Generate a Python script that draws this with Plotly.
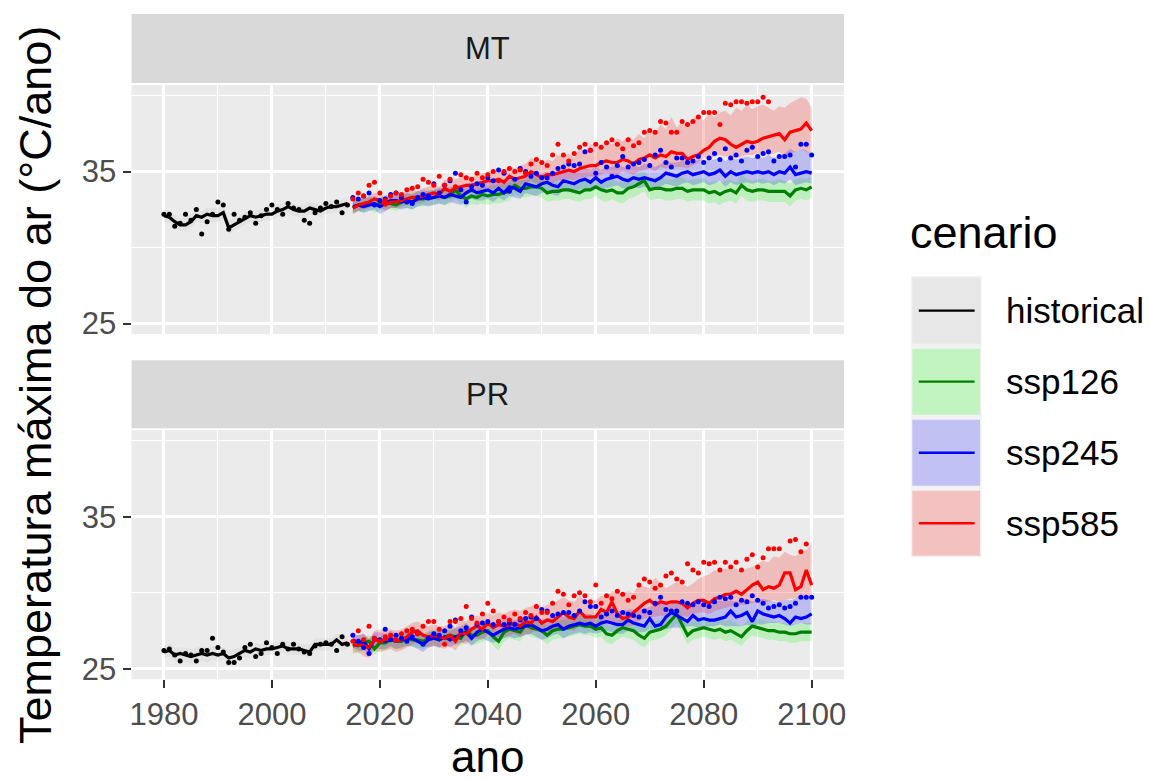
import plotly.graph_objects as go

# ---------------- data ----------------
hist_years = list(range(1980, 2015))
scen_years = list(range(2015, 2101))

# MT historical
mt_hist_mean = [32.1, 32.0, 31.7, 31.5, 31.5, 31.7, 32.1, 32.0, 32.2, 32.1,
                32.1, 32.3, 31.3, 31.5, 31.7, 31.9, 32.1, 32.0, 32.1, 32.2,
                32.2, 32.4, 32.5, 32.7, 32.5, 32.4, 32.4, 32.6, 32.5, 32.4,
                32.6, 32.7, 32.7, 32.8, 32.9]
mt_hist_hi = [32.5, 32.4, 32.2, 31.9, 32.0, 32.2, 32.5, 32.4, 32.6, 32.6,
              32.6, 32.7, 31.8, 32.0, 32.1, 32.3, 32.5, 32.4, 32.5, 32.7,
              32.6, 32.8, 32.9, 33.1, 32.9, 32.8, 32.8, 33.0, 32.9, 32.8,
              33.0, 33.1, 33.1, 33.2, 33.3]
mt_hist_lo = [31.7, 31.6, 31.3, 31.1, 31.1, 31.3, 31.7, 31.6, 31.8, 31.7,
              31.7, 31.9, 30.9, 31.1, 31.3, 31.5, 31.7, 31.6, 31.7, 31.8,
              31.8, 32.0, 32.1, 32.3, 32.1, 32.0, 32.0, 32.2, 32.1, 32.0,
              32.2, 32.3, 32.3, 32.4, 32.5]
mt_hist_pts = [32.2, 32.2, 31.4, 31.6, 32.2, 31.8, 32.5, 30.9, 31.7, 32.2,
               33.0, 32.8, 31.2, 32.2, 31.8, 32.0, 32.3, 31.6, 32.1, 32.5,
               32.8, 32.5, 32.2, 32.9, 32.6, 32.5, 31.8, 31.6, 32.3, 32.6,
               32.9, 32.7, 33.0, 32.3, 32.8]

# MT ssp126
mt_126_mean = [32.6, 32.8, 32.7, 32.9, 32.8, 32.9, 33.0, 32.9, 32.8, 33.0,
               33.1, 33.0, 33.2, 33.2, 33.3, 33.3, 33.4, 33.3, 33.4, 33.8,
               33.4, 33.2, 33.4, 33.3, 33.5, 33.4, 33.5, 33.5, 33.6, 33.7,
               34.1, 33.9, 33.9, 34.0, 34.0, 33.9, 33.6, 33.7, 33.7, 33.8,
               33.8, 33.7, 33.6, 33.8, 33.8, 34.0, 33.8, 33.7, 33.8, 33.6,
               33.6, 33.9, 34.0, 34.2, 34.4, 33.8, 33.9, 33.9, 33.8, 33.8,
               33.9, 33.9, 33.7, 33.8, 33.8, 33.8, 33.6, 33.7, 33.5, 33.7,
               33.8, 33.6, 34.1, 33.8, 33.7, 33.8, 33.8, 33.7, 33.7, 33.7,
               33.7, 33.4, 33.8, 33.9, 33.8, 34.0]
mt_126_hi = [33.0, 33.2, 33.2, 33.4, 33.2, 33.3, 33.5, 33.3, 33.3, 33.5,
             33.5, 33.6, 33.7, 33.6, 33.8, 33.8, 33.9, 33.8, 33.9, 34.2,
             33.9, 33.8, 33.9, 33.9, 34.0, 34.0, 34.1, 34.1, 34.2, 34.3,
             34.6, 34.5, 34.4, 34.6, 34.6, 34.5, 34.2, 34.3, 34.3, 34.4,
             34.4, 34.3, 34.3, 34.5, 34.4, 34.6, 34.5, 34.4, 34.5, 34.3,
             34.3, 34.6, 34.7, 34.9, 35.0, 34.5, 34.6, 34.6, 34.5, 34.5,
             34.6, 34.6, 34.4, 34.5, 34.5, 34.6, 34.3, 34.4, 34.3, 34.4,
             34.5, 34.3, 34.8, 34.5, 34.4, 34.5, 34.5, 34.4, 34.4, 34.5,
             34.4, 34.2, 34.5, 34.6, 34.5, 34.7]
mt_126_lo = [32.2, 32.4, 32.3, 32.5, 32.3, 32.4, 32.6, 32.5, 32.4, 32.6,
             32.6, 32.5, 32.7, 32.7, 32.8, 32.8, 32.9, 32.8, 32.9, 33.2,
             32.9, 32.6, 32.9, 32.8, 32.9, 32.8, 32.9, 32.9, 33.0, 33.1,
             33.5, 33.3, 33.3, 33.4, 33.4, 33.3, 33.0, 33.1, 33.1, 33.2,
             33.2, 33.1, 33.0, 33.2, 33.2, 33.4, 33.1, 33.0, 33.2, 33.0,
             32.9, 33.2, 33.3, 33.5, 33.7, 33.1, 33.2, 33.2, 33.1, 33.1,
             33.2, 33.2, 33.0, 33.1, 33.1, 33.1, 32.9, 33.0, 32.8, 33.0,
             33.1, 32.9, 33.4, 33.1, 33.0, 33.1, 33.1, 33.0, 33.0, 33.0,
             33.0, 32.7, 33.1, 33.2, 33.1, 33.3]

# MT ssp245
mt_245_mean = [32.7, 32.8, 32.7, 32.8, 32.9, 32.7, 32.9, 33.1, 33.1, 33.0,
               33.1, 33.0, 33.2, 33.3, 33.2, 33.3, 33.4, 33.3, 33.5, 33.4,
               33.3, 33.6, 33.8, 33.6, 33.7, 33.8, 33.6, 33.9, 33.6, 34.0,
               33.9, 33.7, 34.2, 34.1, 34.0, 34.2, 34.3, 34.1, 34.0, 34.4,
               34.3, 34.2, 34.4, 34.5, 34.3, 34.6, 34.3, 34.5, 34.6, 34.7,
               34.5, 34.4, 34.6, 34.5, 34.6, 34.5, 34.4, 34.6, 34.9, 34.8,
               34.7, 34.9, 35.0, 34.8, 34.9, 35.0, 34.8, 34.9, 35.1, 34.7,
               35.0, 34.8, 34.9, 35.0, 34.9, 35.0, 34.9, 35.0, 34.8, 35.0,
               34.9, 35.3, 34.8, 34.9, 35.0, 34.9]
mt_245_hi = [33.1, 33.2, 33.2, 33.3, 33.4, 33.2, 33.4, 33.6, 33.5, 33.5,
             33.6, 33.5, 33.7, 33.8, 33.7, 33.8, 33.9, 33.9, 34.0, 34.0,
             33.9, 34.2, 34.3, 34.2, 34.3, 34.4, 34.2, 34.5, 34.3, 34.6,
             34.6, 34.4, 34.8, 34.8, 34.7, 34.9, 35.0, 34.8, 34.8, 35.1,
             35.0, 35.0, 35.2, 35.2, 35.1, 35.3, 35.1, 35.3, 35.3, 35.5,
             35.3, 35.2, 35.4, 35.3, 35.5, 35.4, 35.3, 35.5, 35.7, 35.6,
             35.6, 35.7, 35.8, 35.6, 35.8, 35.8, 35.7, 35.8, 35.9, 35.7,
             35.9, 35.8, 35.9, 36.0, 35.9, 36.0, 35.9, 36.1, 35.9, 36.1,
             36.2, 36.5, 36.3, 36.5, 36.4, 36.1]
mt_245_lo = [32.3, 32.4, 32.3, 32.4, 32.5, 32.2, 32.4, 32.6, 32.6, 32.5,
             32.6, 32.5, 32.7, 32.8, 32.7, 32.8, 32.9, 32.8, 33.0, 32.9,
             32.8, 33.1, 33.2, 33.1, 33.1, 33.2, 33.0, 33.3, 33.1, 33.4,
             33.3, 33.2, 33.6, 33.5, 33.4, 33.6, 33.7, 33.5, 33.4, 33.8,
             33.7, 33.6, 33.8, 33.9, 33.7, 34.0, 33.8, 33.9, 34.0, 34.1,
             33.9, 33.8, 34.0, 33.9, 34.0, 33.9, 33.8, 34.0, 34.2, 34.1,
             34.0, 34.2, 34.3, 34.1, 34.2, 34.3, 34.1, 34.2, 34.4, 34.0,
             34.3, 34.1, 34.2, 34.3, 34.2, 34.3, 34.2, 34.3, 34.1, 34.3,
             34.2, 34.5, 34.1, 34.2, 34.3, 34.2]
mt_245_pts = [33.3, 33.2, 33.4, 33.6, 32.8, 33.1, 33.2, 33.5, 33.6, 33.3,
              33.0, 32.9, 33.3, 33.5, 33.4, 34.2, 33.6, 34.1, 34.4, 34.9,
              33.8, 33.0, 34.0, 34.2, 34.1, 34.6, 34.4, 35.1, 34.9, 33.7,
              34.5, 35.2, 35.0, 34.7, 34.9, 34.6, 34.6, 34.9, 35.2, 35.3,
              35.5, 35.4, 35.5, 36.3, 36.4, 34.9, 35.6, 35.3, 34.7, 35.4,
              36.0, 35.3, 35.5, 35.6, 35.8, 35.4, 36.1, 36.4, 35.6, 35.3,
              35.9, 35.9, 35.6, 35.7, 36.0, 35.6, 35.9, 36.2, 35.8, 36.5,
              35.9, 36.1, 35.7, 36.4, 36.6, 36.0, 36.2, 36.3, 35.7, 36.0,
              36.0, 36.1, 35.3, 36.8, 36.8, 36.1]

# MT ssp585
mt_585_mean = [32.6, 32.8, 32.9, 33.0, 33.2, 33.1, 32.8, 33.0, 33.0, 33.1,
               33.2, 33.3, 33.3, 33.4, 33.5, 33.6, 33.5, 33.9, 33.7, 33.9,
               34.0, 34.1, 34.1, 34.2, 34.3, 34.4, 34.4, 34.5, 34.3, 34.7,
               34.5, 34.6, 34.7, 35.0, 34.8, 34.6, 34.8, 34.8, 34.9, 35.0,
               35.1, 35.0, 35.2, 35.3, 35.4, 35.4, 35.6, 35.7, 35.6, 35.6,
               35.8, 35.7, 35.5, 35.8, 35.9, 36.1, 35.9, 36.1, 36.0, 36.3,
               36.2, 36.2, 35.8, 36.0, 36.1, 36.4, 36.6, 37.0, 37.2, 37.1,
               36.8, 36.6, 36.8, 37.0, 36.9, 37.0, 37.2, 37.3, 37.4, 37.5,
               37.1, 37.6, 37.7, 37.8, 38.2, 37.7]
mt_585_hi = [33.0, 33.3, 33.3, 33.4, 33.6, 33.6, 33.3, 33.4, 33.5, 33.6,
             33.7, 33.8, 33.7, 33.9, 34.0, 34.1, 34.0, 34.5, 34.3, 34.5,
             34.6, 34.8, 34.6, 34.8, 34.9, 35.0, 35.1, 35.2, 35.0, 35.4,
             35.2, 35.4, 35.5, 35.9, 35.7, 35.5, 35.8, 35.7, 36.1, 36.0,
             36.2, 35.9, 36.5, 36.3, 36.8, 36.7, 36.5, 37.0, 36.8, 37.2,
             37.0, 37.3, 37.1, 37.5, 37.2, 37.8, 37.5, 38.1, 37.8, 38.6,
             37.9, 38.3, 38.0, 38.5, 38.7, 38.4, 38.8, 38.6, 38.9, 39.0,
             38.7, 39.2, 39.0, 39.4, 39.1, 39.3, 39.4, 39.2, 39.0, 39.3,
             39.2, 39.5, 39.7, 39.9, 39.8, 39.2]
mt_585_lo = [32.2, 32.4, 32.5, 32.6, 32.8, 32.7, 32.4, 32.6, 32.6, 32.7,
             32.8, 32.9, 32.9, 33.0, 33.1, 33.2, 33.1, 33.4, 33.2, 33.4,
             33.5, 33.6, 33.6, 33.7, 33.8, 33.9, 33.8, 34.0, 33.8, 34.1,
             34.0, 34.1, 34.2, 34.4, 34.2, 34.1, 34.3, 34.2, 34.4, 34.4,
             34.5, 34.4, 34.6, 34.6, 34.7, 34.6, 34.8, 34.9, 34.8, 34.8,
             35.0, 34.9, 34.8, 35.0, 35.1, 35.2, 35.0, 35.3, 35.2, 35.3,
             35.3, 35.3, 35.2, 35.4, 35.6, 35.9, 35.8, 36.0, 36.1, 36.0,
             36.0, 35.9, 36.0, 36.1, 36.1, 36.2, 36.1, 36.1, 36.2, 36.3,
             36.0, 36.2, 36.3, 36.5, 36.3, 36.1]
mt_585_pts = [33.2, 33.6, 33.4, 34.1, 34.3, 33.6, 33.1, 33.4, 33.6, 33.5,
              33.8, 33.9, 34.0, 34.5, 34.3, 34.1, 34.7, 34.1, 34.5, 34.0,
              34.8, 34.6, 34.5, 34.9, 34.6, 34.8, 35.0, 34.4, 35.0, 35.2,
              35.0, 35.1, 34.9, 35.5, 35.8, 35.6, 35.4, 36.1, 36.8, 36.1,
              35.7, 36.2, 36.6, 36.8, 36.4, 36.8, 36.6, 36.9, 37.1, 36.8,
              36.5, 37.1, 36.7, 36.9, 37.6, 37.7, 37.6, 38.3, 38.2, 37.6,
              37.6, 38.3, 38.1, 38.3, 38.6, 38.9, 38.9, 38.9, 38.1, 39.5,
              39.4, 39.6, 39.6, 39.5, 39.6, 39.6, 39.9, 39.6, None, None,
              None, None, None, None, None, None]

# PR historical
pr_hist_mean = [26.1, 26.2, 25.9, 26.0, 25.9, 25.8, 25.9, 26.0, 25.9, 26.0,
                25.9, 26.0, 25.7, 25.8, 26.0, 26.2, 26.1, 26.3, 26.2, 26.3,
                26.3, 26.4, 26.5, 26.3, 26.3, 26.3, 26.2, 26.1, 26.6, 26.6,
                26.6, 26.6, 26.9, 26.6, 26.7]
pr_hist_hi = [26.5, 26.6, 26.4, 26.4, 26.4, 26.3, 26.4, 26.5, 26.4, 26.5,
              26.4, 26.4, 26.2, 26.3, 26.4, 26.6, 26.5, 26.7, 26.6, 26.7,
              26.7, 26.8, 26.9, 26.8, 26.7, 26.7, 26.6, 26.6, 27.0, 27.0,
              27.0, 27.0, 27.3, 27.1, 27.1]
pr_hist_lo = [25.7, 25.8, 25.5, 25.6, 25.4, 25.3, 25.4, 25.5, 25.4, 25.6,
              25.5, 25.6, 25.2, 25.3, 25.6, 25.8, 25.7, 25.9, 25.8, 25.9,
              25.9, 26.0, 26.1, 25.9, 25.9, 25.9, 25.8, 25.7, 26.2, 26.2,
              26.2, 26.2, 26.5, 26.2, 26.3]
pr_hist_pts = [26.2, 26.3, 25.9, 25.5, 26.0, 25.9, 25.5, 26.2, 26.2, 27.0,
               26.4, 26.1, 25.4, 25.4, 25.7, 26.4, 26.6, 25.8, 26.0, 26.7,
               26.4, 26.0, 26.6, 26.3, 26.6, 26.3, 26.1, 26.0, 26.5, 26.6,
               26.7, 26.6, 26.2, 27.1, 26.6]

# PR ssp126
pr_126_mean = [26.6, 26.5, 26.7, 26.8, 26.3, 26.7, 26.7, 26.9, 26.8, 26.8,
               27.0, 26.9, 26.9, 26.8, 27.0, 27.1, 26.9, 27.1, 27.2, 27.1,
               27.0, 27.5, 27.2, 27.2, 27.4, 27.5, 27.1, 26.8, 27.4, 27.6,
               27.5, 27.4, 27.9, 27.7, 27.6, 27.5, 27.2, 27.5, 27.6, 27.6,
               27.7, 27.8, 27.9, 27.8, 27.8, 27.6, 27.7, 27.3, 27.2, 27.5,
               27.7, 27.6, 27.5, 27.2, 27.0, 27.4, 27.5, 27.6, 27.8, 28.2,
               28.6, 27.9, 27.2, 27.5, 27.6, 27.7, 27.6, 27.5, 27.6, 27.4,
               27.5, 27.3, 27.1, 27.5, 27.8, 27.7, 27.6, 27.5, 27.5, 27.4,
               27.4, 27.3, 27.3, 27.4, 27.4, 27.4]
pr_126_hi = [27.0, 26.9, 27.1, 27.2, 26.8, 27.1, 27.1, 27.3, 27.2, 27.2,
             27.4, 27.3, 27.4, 27.3, 27.5, 27.6, 27.4, 27.6, 27.7, 27.6,
             27.5, 28.0, 27.7, 27.7, 27.9, 28.0, 27.7, 27.4, 27.9, 28.1,
             28.0, 27.9, 28.4, 28.2, 28.1, 28.1, 27.8, 28.1, 28.2, 28.2,
             28.3, 28.4, 28.5, 28.4, 28.4, 28.2, 28.3, 27.9, 27.8, 28.1,
             28.3, 28.2, 28.1, 27.9, 27.7, 28.0, 28.1, 28.2, 28.4, 28.8,
             29.1, 28.6, 27.9, 28.1, 28.2, 28.3, 28.2, 28.2, 28.3, 28.1,
             28.2, 28.0, 27.8, 28.1, 28.4, 28.3, 28.2, 28.1, 28.1, 28.0,
             28.0, 27.9, 27.9, 28.0, 28.0, 28.0]
pr_126_lo = [26.2, 26.0, 26.2, 26.3, 25.9, 26.2, 26.2, 26.4, 26.3, 26.3,
             26.5, 26.4, 26.4, 26.3, 26.5, 26.6, 26.4, 26.6, 26.7, 26.6,
             26.5, 26.9, 26.6, 26.6, 26.8, 26.9, 26.5, 26.2, 26.8, 27.0,
             26.9, 26.8, 27.3, 27.1, 27.0, 26.9, 26.6, 26.9, 27.0, 27.0,
             27.1, 27.2, 27.3, 27.2, 27.2, 27.0, 27.1, 26.7, 26.6, 26.9,
             27.1, 27.0, 26.9, 26.6, 26.4, 26.8, 26.9, 27.0, 27.2, 27.6,
             28.0, 27.3, 26.6, 26.9, 27.0, 27.1, 27.0, 26.9, 27.0, 26.8,
             26.9, 26.7, 26.5, 26.9, 27.2, 27.1, 27.0, 26.9, 26.9, 26.8,
             26.8, 26.7, 26.7, 26.8, 26.8, 26.8]

# PR ssp245
pr_245_mean = [26.9, 26.7, 26.8, 26.3, 26.9, 26.9, 26.8, 27.0, 26.8, 26.9,
               27.0, 27.0, 26.8, 26.6, 26.9, 27.0, 26.9, 27.1, 26.9, 27.1,
               27.2, 27.4, 27.0, 27.4, 27.6, 27.4, 27.2, 27.4, 27.6, 27.7,
               27.6, 27.7, 27.8, 27.9, 27.7, 27.5, 27.6, 27.8, 27.9, 27.6,
               27.8, 27.9, 28.0, 27.9, 28.0, 27.8, 28.0, 28.1, 28.0, 27.9,
               27.9, 28.2, 28.0, 27.9, 27.8, 28.3, 27.8, 27.9, 28.4, 28.7,
               28.5, 28.3, 28.1, 28.5, 28.2, 28.3, 28.2, 28.2, 28.3, 28.4,
               28.8, 28.4, 28.5, 28.7, 28.1, 28.8, 28.6, 28.5, 28.4, 28.5,
               28.3, 28.0, 28.4, 28.3, 28.4, 28.6]
pr_245_hi = [27.3, 27.2, 27.3, 26.9, 27.4, 27.4, 27.3, 27.5, 27.3, 27.4,
             27.5, 27.5, 27.3, 27.2, 27.4, 27.5, 27.5, 27.6, 27.5, 27.7,
             27.8, 28.0, 27.6, 28.0, 28.2, 28.0, 27.9, 28.0, 28.2, 28.3,
             28.2, 28.3, 28.4, 28.5, 28.4, 28.2, 28.3, 28.5, 28.6, 28.4,
             28.5, 28.6, 28.7, 28.6, 28.6, 28.5, 28.7, 28.7, 28.6, 28.8,
             28.8, 28.9, 28.9, 29.0, 28.9, 29.1, 29.2, 29.3, 29.3, 29.4,
             29.4, 29.3, 29.2, 29.3, 29.3, 29.3, 29.4, 29.4, 29.5, 29.4,
             29.5, 29.4, 29.5, 29.6, 29.4, 29.5, 29.6, 29.5, 29.4, 29.4,
             29.5, 29.5, 29.6, 29.8, 29.7, 29.5]
pr_245_lo = [26.4, 26.2, 26.2, 25.8, 26.4, 26.3, 26.3, 26.5, 26.3, 26.4,
             26.5, 26.5, 26.3, 26.1, 26.4, 26.5, 26.4, 26.6, 26.4, 26.6,
             26.7, 26.8, 26.5, 26.8, 27.0, 26.8, 26.7, 26.8, 27.0, 27.1,
             27.0, 27.1, 27.2, 27.3, 27.1, 26.9, 27.0, 27.2, 27.3, 27.0,
             27.2, 27.3, 27.4, 27.3, 27.4, 27.3, 27.4, 27.5, 27.4, 27.3,
             27.3, 27.5, 27.4, 27.4, 27.4, 27.6, 27.5, 27.5, 27.6, 27.7,
             27.7, 27.7, 27.8, 27.8, 27.7, 27.7, 27.8, 27.8, 27.9, 27.8,
             27.8, 27.8, 27.8, 27.9, 27.8, 27.9, 27.9, 28.0, 28.0, 28.0,
             27.9, 27.8, 27.9, 28.0, 27.9, 27.9]
pr_245_pts = [27.2, 26.8, 26.4, 26.0, 27.0, 26.9, 27.6, 26.9, 27.2, 27.0,
              26.8, 27.1, 27.3, 26.6, 27.0, 27.3, 27.2, 27.5, 27.8, 28.2,
              27.5, 27.7, 28.4, 27.9, 28.0, 28.1, 27.9, 28.1, 27.9, 28.0,
              27.9, 28.2, 28.3, 28.4, 28.3, 28.9, 28.8, 28.5, 28.6, 28.7,
              28.7, 28.5, 28.8, 29.4, 29.1, 29.1, 28.4, 28.6, 28.8, 28.5,
              28.7, 28.6, 28.5, 28.4, 28.8, 28.7, 29.3, 29.7, 28.9, 28.8,
              28.8, 29.4, 29.3, 29.2, 29.4, 29.2, 29.1, 29.4, 29.7, 29.6,
              29.7, 29.2, 29.5, 29.4, 29.8, 29.5, 29.3, 29.0, 29.1, 29.2,
              29.0, 29.1, 29.3, 29.7, 29.7, 29.7]

# PR ssp585
pr_585_mean = [26.5, 26.6, 26.5, 26.4, 26.9, 26.8, 26.9, 27.0, 26.8, 26.9,
               27.1, 27.4, 27.5, 27.2, 27.1, 27.2, 27.1, 27.0, 27.2, 26.8,
               27.4, 27.3, 27.6, 27.8, 27.6, 28.0, 27.7, 27.9, 27.8, 27.9,
               28.0, 27.8, 28.1, 28.0, 28.4, 28.0, 28.2, 28.1, 28.4, 28.7,
               28.4, 28.3, 28.8, 28.4, 28.4, 28.4, 28.9, 28.7, 29.4, 28.6,
               28.3, 28.4, 28.7, 29.0, 29.3, 29.5, 29.2, 29.4, 29.3, 29.4,
               29.4, 29.3, 29.0, 29.3, 29.5, 29.5, 29.3, 29.6, 29.7, 29.9,
               29.9, 30.1, 29.9, 30.2, 30.5, 30.7, 30.2, 30.4, 30.3, 30.5,
               31.3, 31.3, 30.2, 30.4, 31.5, 30.5]
pr_585_hi = [27.0, 27.2, 27.3, 27.0, 27.5, 27.6, 27.5, 27.6, 27.5, 27.6,
             27.8, 28.0, 28.1, 27.9, 27.8, 27.9, 27.8, 27.8, 28.0, 27.7,
             28.2, 28.1, 28.4, 28.5, 28.4, 28.7, 28.5, 28.7, 28.6, 28.8,
             28.9, 28.8, 29.0, 29.1, 29.3, 29.0, 29.2, 29.2, 29.5, 29.7,
             29.5, 29.4, 29.8, 29.5, 29.3, 29.5, 29.8, 29.7, 30.1, 30.0,
             29.9, 30.1, 30.0, 30.5, 30.4, 30.3, 31.0, 30.6, 30.3, 30.5,
             30.7, 30.6, 30.4, 30.6, 30.9, 31.1, 31.2, 31.5, 31.4, 31.6,
             31.5, 31.6, 31.4, 31.6, 31.7, 31.9, 32.1, 32.0, 32.4, 32.3,
             32.7, 32.5, 32.4, 32.7, 32.8, 33.2]
pr_585_lo = [26.0, 26.1, 25.8, 25.7, 26.2, 26.1, 26.2, 26.3, 26.1, 26.2,
             26.4, 26.6, 26.7, 26.5, 26.4, 26.5, 26.4, 26.3, 26.5, 26.2,
             26.7, 26.6, 26.9, 27.0, 26.9, 27.2, 27.0, 27.1, 27.1, 27.2,
             27.3, 27.1, 27.3, 27.3, 27.6, 27.3, 27.4, 27.4, 27.6, 27.8,
             27.6, 27.5, 27.9, 27.7, 27.7, 27.8, 28.0, 27.9, 28.1, 27.9,
             27.8, 27.8, 27.9, 28.1, 28.3, 28.4, 28.4, 28.5, 28.4, 28.5,
             28.5, 28.5, 28.4, 28.6, 28.7, 28.7, 28.6, 28.8, 28.9, 29.0,
             29.1, 29.1, 29.2, 29.2, 29.3, 29.4, 29.3, 29.4, 29.5, 29.4,
             29.5, 29.6, 29.6, 29.7, 29.7, 29.6]
pr_585_pts = [26.8, 27.5, 26.9, 27.8, 27.0, 26.8, 27.1, 27.2, 26.9, 27.3,
              27.5, 27.6, 27.3, 27.8, 28.1, 28.1, 27.6, 26.6, 28.1, 28.1,
              28.3, 29.1, 28.3, 28.0, 28.6, 29.3, 28.8, 28.1, 28.4, 28.2,
              28.6, 28.3, 28.7, 28.5, 29.1, 28.7, 28.7, 29.3, 30.1, 29.9,
              29.2, 29.8, 30.0, 29.8, 29.4, 30.5, 29.3, 29.8, 29.6, 30.1,
              29.9, 29.5, 29.7, 30.5, 30.9, 30.7, 30.3, 30.5, 31.1, 31.3,
              30.9, 30.7, 31.9, 31.5, 31.3, 32.0, 31.9, 32.0, 31.5, 32.0,
              31.7, 32.0, 31.5, 32.2, 32.5, 31.7, 32.3, 32.9, 32.9, 32.9,
              None, 33.4, 33.5, 32.7, 33.2, None]

scenarios = ["historical", "ssp126", "ssp245", "ssp585"]
line_colors = {"historical": "#000000", "ssp126": "#008000",
               "ssp245": "#0000FF", "ssp585": "#FF0000"}
fill_colors = {"historical": "rgba(190,190,190,0.2)", "ssp126": "rgba(0,255,0,0.2)",
               "ssp245": "rgba(0,0,255,0.2)", "ssp585": "rgba(255,0,0,0.2)"}

regions = {
    "MT": {
        "historical": (hist_years, mt_hist_mean, mt_hist_lo, mt_hist_hi, mt_hist_pts),
        "ssp126": (scen_years, mt_126_mean, mt_126_lo, mt_126_hi, None),
        "ssp245": (scen_years, mt_245_mean, mt_245_lo, mt_245_hi, mt_245_pts),
        "ssp585": (scen_years, mt_585_mean, mt_585_lo, mt_585_hi, mt_585_pts),
    },
    "PR": {
        "historical": (hist_years, pr_hist_mean, pr_hist_lo, pr_hist_hi, pr_hist_pts),
        "ssp126": (scen_years, pr_126_mean, pr_126_lo, pr_126_hi, None),
        "ssp245": (scen_years, pr_245_mean, pr_245_lo, pr_245_hi, pr_245_pts),
        "ssp585": (scen_years, pr_585_mean, pr_585_lo, pr_585_hi, pr_585_pts),
    },
}

for reg, d in regions.items():
    for sc, (yrs, m, lo, hi, pts) in d.items():
        for arr in (m, lo, hi, pts):
            if arr is not None:
                assert len(arr) == len(yrs), (reg, sc, len(arr))

# ---------------- layout geometry ----------------
W, H = 1150, 780
KY = 1.0095  # small vertical correction so the photographed layout lines up
def fx(p): return p / W
def fy(p): return 1 - (p * KY) / H

PX0, PX1 = 130, 845
panels = {"MT": (85, 334), "PR": (430, 679)}
strips = {"MT": (14, 83), "PR": (360, 428)}
axis_ref = {"MT": ("x2", "y2"), "PR": ("x", "y")}

FONT = "Liberation Sans, Arial, sans-serif"

fig = go.Figure()

# ribbons
for reg in ["MT", "PR"]:
    xa, ya = axis_ref[reg]
    for sc in scenarios:
        yrs, m, lo, hi, pts = regions[reg][sc]
        fig.add_trace(go.Scatter(
            x=list(yrs) + list(yrs)[::-1], y=list(hi) + list(lo)[::-1],
            fill="toself", fillcolor=fill_colors[sc], line=dict(width=0),
            mode="lines", xaxis=xa, yaxis=ya, hoverinfo="skip", showlegend=False))
# lines
for reg in ["MT", "PR"]:
    xa, ya = axis_ref[reg]
    for sc in scenarios:
        yrs, m, lo, hi, pts = regions[reg][sc]
        fig.add_trace(go.Scatter(
            x=yrs, y=m, mode="lines", line=dict(color=line_colors[sc], width=3.2),
            xaxis=xa, yaxis=ya, showlegend=False, name=sc))
# points
for reg in ["MT", "PR"]:
    xa, ya = axis_ref[reg]
    for sc in scenarios:
        yrs, m, lo, hi, pts = regions[reg][sc]
        if pts is None:
            continue
        fig.add_trace(go.Scatter(
            x=yrs, y=pts, mode="markers",
            marker=dict(color=line_colors[sc], size=5, line=dict(width=0)),
            xaxis=xa, yaxis=ya, showlegend=False, name=sc))

XRANGE = [1974, 2106]
YRANGE = [24.3, 40.7]
xmaj = [1980, 2000, 2020, 2040, 2060, 2080, 2100]
xmin_ = [1990, 2010, 2030, 2050, 2070, 2090]
ymaj = [25, 35]
ymin_ = [30, 40]

common_x = dict(range=XRANGE, domain=[fx(PX0), fx(PX1)], showgrid=True,
                gridcolor="#FFFFFF", gridwidth=2.6, zeroline=False, showline=False,
                tickvals=xmaj, ticktext=[str(v) for v in xmaj],
                minor=dict(tickvals=xmin_, showgrid=True, gridcolor="#FFFFFF", gridwidth=1.3, ticks=""))
common_y = dict(range=YRANGE, showgrid=True, gridcolor="#FFFFFF", gridwidth=2.6,
                zeroline=False, showline=False, tickvals=ymaj, ticktext=[str(v) for v in ymaj],
                ticks="outside", ticklen=8, tickwidth=2.4, tickcolor="#333333",
                tickfont=dict(family=FONT, size=31, color="#4D4D4D"),
                minor=dict(tickvals=ymin_, showgrid=True, gridcolor="#FFFFFF", gridwidth=1.3, ticks=""))

fig.update_layout(
    width=W, height=H,
    margin=dict(l=0, r=0, t=0, b=0),
    paper_bgcolor="#FFFFFF", plot_bgcolor="#EBEBEB",
    showlegend=False,
    font=dict(family=FONT, color="#000000"),
    xaxis=dict(**common_x, anchor="y", ticks="outside", ticklen=8, tickwidth=2.4,
               tickcolor="#333333", tickfont=dict(family=FONT, size=31, color="#4D4D4D")),
    xaxis2=dict(**common_x, anchor="y2", matches="x", showticklabels=False, ticks=""),
    yaxis=dict(**common_y, anchor="x", domain=[fy(panels["PR"][1]), fy(panels["PR"][0])]),
    yaxis2=dict(**common_y, anchor="x2", domain=[fy(panels["MT"][1]), fy(panels["MT"][0])]),
)

shapes = []
annotations = []
# strips
for reg in ["MT", "PR"]:
    s0, s1 = strips[reg]
    shapes.append(dict(type="rect", xref="paper", yref="paper", x0=fx(PX0), x1=fx(PX1),
                       y0=fy(s1), y1=fy(s0), fillcolor="#D9D9D9", line=dict(width=0), layer="below"))
    annotations.append(dict(text=reg, xref="paper", yref="paper", x=fx((PX0 + PX1) / 2),
                            y=fy((s0 + s1) / 2), showarrow=False, xanchor="center", yanchor="middle",
                            font=dict(family=FONT, size=31, color="#1A1A1A")))

# axis titles
annotations.append(dict(text="ano", xref="paper", yref="paper", x=fx((PX0 + PX1) / 2), y=fy(756),
                        showarrow=False, xanchor="center", yanchor="middle",
                        font=dict(family=FONT, size=44, color="#000000")))
annotations.append(dict(text="Temperatura máxima do ar (°C/ano)", xref="paper", yref="paper",
                        x=fx(33), y=fy(385), textangle=-90, showarrow=False,
                        xanchor="center", yanchor="middle",
                        font=dict(family=FONT, size=45, color="#000000")))

# legend (drawn manually to mimic ggplot keys)
annotations.append(dict(text="cenario", xref="paper", yref="paper", x=fx(909), y=fy(232),
                        showarrow=False, xanchor="left", yanchor="middle",
                        font=dict(family=FONT, size=45, color="#000000")))
key_x0, key_x1 = 912, 983
keys = [(276, 345), (347, 416), (418, 487), (489, 557)]
shapes.append(dict(type="rect", xref="paper", yref="paper", x0=fx(key_x0), x1=fx(key_x1),
                   y0=fy(keys[-1][1]), y1=fy(keys[0][0]), fillcolor="#F2F2F2", line=dict(width=0)))
for sc, (k0, k1) in zip(scenarios, keys):
    shapes.append(dict(type="rect", xref="paper", yref="paper", x0=fx(key_x0 + 1.5), x1=fx(key_x1 - 1.5),
                       y0=fy(k1 - 1.5), y1=fy(k0 + 1.5), fillcolor=fill_colors[sc], line=dict(width=0)))
    kc = (k0 + k1) / 2
    shapes.append(dict(type="line", xref="paper", yref="paper", x0=fx(920), x1=fx(976),
                       y0=fy(kc), y1=fy(kc), line=dict(color=line_colors[sc], width=2.4)))
    annotations.append(dict(text=sc, xref="paper", yref="paper", x=fx(1005), y=fy(kc),
                            showarrow=False, xanchor="left", yanchor="middle",
                            font=dict(family=FONT, size=35, color="#000000")))

fig.update_layout(shapes=shapes, annotations=annotations)
fig.write_html(
    "out.html",
    config={"displayModeBar": False},
    post_script=("document.documentElement.style.margin='0';"
                 "document.documentElement.style.overflow='hidden';"
                 "document.body.style.margin='0';document.body.style.padding='0';"
                 "document.body.style.overflow='hidden';"),
)
